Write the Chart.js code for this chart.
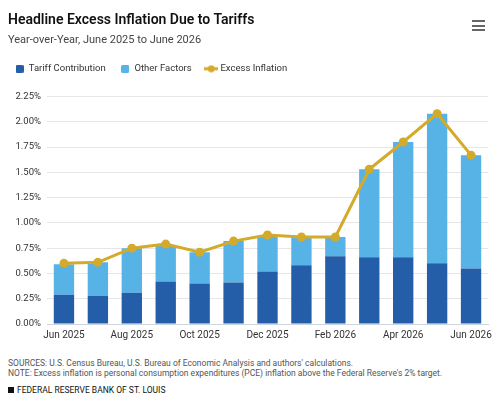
<!doctype html>
<html lang="en">
<head>
<meta charset="utf-8">
<title>Headline Excess Inflation Due to Tariffs</title>
<script src="https://cdn.jsdelivr.net/npm/chart.js@4.4.1/dist/chart.umd.min.js"></script>
<style>
  body { margin: 0; background: #fff; font-family: Roboto, "Noto Sans", sans-serif; }
  #wrap { position: relative; width: 500px; height: 400px; overflow: hidden; }
  #chartBox { position: absolute; left: 0; top: 0; width: 500px; height: 346px; }
  .title { position: absolute; left: 8px; top: 11px; font-size: 14px; font-weight: 600; color: #111; }
  .subtitle { position: absolute; left: 8px; top: 33px; font-size: 11px; color: #444; }
  .menu { position: absolute; left: 472px; top: 20px; width: 13px; }
  .menu div { height: 2px; background: #666; margin-bottom: 2.5px; }
  .notes { position: absolute; left: 8px; top: 358px; font-size: 8.5px; line-height: 10px; color: #555; }
  .brand { position: absolute; left: 8px; top: 385px; font-size: 8.5px; color: #111; }
  .brand span { display: inline-block; width: 6px; height: 6px; background: #111; margin-right: 3px; }
</style>
</head>
<body>
<div id="wrap">
  <div id="chartBox"><canvas id="canvas"></canvas></div>
  <div class="title">Headline Excess Inflation Due to Tariffs</div>
  <div class="subtitle">Year-over-Year, June 2025 to June 2026</div>
  <div class="menu"><div></div><div></div><div></div></div>
  <div class="notes">SOURCES: U.S. Census Bureau, U.S. Bureau of Economic Analysis and authors' calculations.<br>NOTE: Excess inflation is personal consumption expenditures (PCE) inflation above the Federal Reserve's 2% target.</div>
  <div class="brand"><span></span>FEDERAL RESERVE BANK OF ST. LOUIS</div>
</div>
<script>
var months = ["Jun 2025", "Jul 2025", "Aug 2025", "Sep 2025", "Oct 2025", "Nov 2025", "Dec 2025",
              "Jan 2026", "Feb 2026", "Mar 2026", "Apr 2026", "May 2026", "Jun 2026"];
var tariffContribution = [0.29, 0.28, 0.31, 0.42, 0.40, 0.41, 0.52, 0.58, 0.67, 0.66, 0.66, 0.60, 0.55];
var otherFactors       = [0.30, 0.33, 0.44, 0.36, 0.31, 0.41, 0.35, 0.28, 0.19, 0.87, 1.14, 1.48, 1.12];
var excessInflation    = [0.60, 0.61, 0.75, 0.79, 0.71, 0.82, 0.88, 0.86, 0.86, 1.53, 1.80, 2.08, 1.67];

var darkBlue = '#245ea8';
var lightBlue = '#57b3e6';
var gold = '#d4aa2b';

// little legend icons
function squareIcon(color) {
  var c = document.createElement('canvas');
  c.width = 8; c.height = 8;
  var x = c.getContext('2d');
  x.fillStyle = color;
  x.beginPath();
  x.roundRect(0, 0, 8, 8, 1.5);
  x.fill();
  return c;
}
function lineIcon(color) {
  var c = document.createElement('canvas');
  c.width = 14; c.height = 8;
  var x = c.getContext('2d');
  x.strokeStyle = color;
  x.lineWidth = 3;
  x.beginPath(); x.moveTo(0, 4); x.lineTo(14, 4); x.stroke();
  x.fillStyle = color;
  x.beginPath(); x.arc(7, 4, 3.5, 0, Math.PI * 2); x.fill();
  return c;
}
var icons = [squareIcon(darkBlue), squareIcon(lightBlue), lineIcon(gold)];

// push the plot a bit below the legend
var legendGap = {
  id: 'legendGap',
  beforeLayout: function(chart) {
    var lg = chart.legend;
    if (lg && !lg._gapPatched) {
      var fit = lg.fit;
      lg.fit = function() { fit.call(this); this.height += 13; };
      lg._gapPatched = true;
    }
  }
};

var config = {
  type: 'bar',
  data: {
    labels: months,
    datasets: [{
      label: 'Tariff Contribution',
      data: tariffContribution,
      backgroundColor: darkBlue,
      stack: 'bars',
      order: 1
    }, {
      label: 'Other Factors',
      data: otherFactors,
      backgroundColor: lightBlue,
      stack: 'bars',
      order: 1
    }, {
      type: 'line',
      label: 'Excess Inflation',
      data: excessInflation,
      borderColor: gold,
      backgroundColor: gold,
      borderWidth: 3,
      pointRadius: 4.5,
      pointBackgroundColor: gold,
      pointBorderWidth: 0,
      stack: 'line',
      order: 0
    }]
  },
  options: {
    responsive: true,
    maintainAspectRatio: false,
    animation: false,
    categoryPercentage: 0.6,
    barPercentage: 1,
    layout: { padding: { top: 49, left: 0, right: 12, bottom: 0 } },
    plugins: {
      title: { display: false },
      tooltip: { enabled: false },
      legend: {
        position: 'top',
        align: 'start',
        labels: {
          usePointStyle: true,
          pointStyleWidth: 9,
          padding: 15,
          color: '#333',
          font: { family: 'Roboto', size: 9.5 },
          sort: function(a, b) { return a.datasetIndex - b.datasetIndex; },
          generateLabels: function(chart) {
            var items = Chart.defaults.plugins.legend.labels.generateLabels(chart);
            items.forEach(function(it) { it.pointStyle = icons[it.datasetIndex]; });
            return items;
          }
        }
      }
    },
    scales: {
      x: {
        stacked: true,
        grid: { display: false, drawTicks: false },
        border: { display: true, color: '#ccd6e0' },
        ticks: {
          autoSkip: false,
          maxRotation: 0,
          color: '#333',
          font: { family: 'Roboto', size: 10 },
          padding: 5,
          callback: function(val, i) { return i % 2 === 0 ? months[i] : ''; }
        }
      },
      y: {
        stacked: true,
        min: 0,
        max: 2.25,
        afterFit: function(scale) { scale.width = 47; },
        grid: { color: '#e6e6e6', drawTicks: false },
        border: { display: false },
        ticks: {
          stepSize: 0.25,
          padding: 6,
          color: '#333',
          font: { family: 'Roboto', size: 9.5 },
          callback: function(v) { return v.toFixed(2) + '%'; }
        }
      }
    }
  },
  plugins: [legendGap]
};

window.onload = function() {
  window.myChart = new Chart(document.getElementById('canvas'), config);
};
</script>
</body>
</html>
